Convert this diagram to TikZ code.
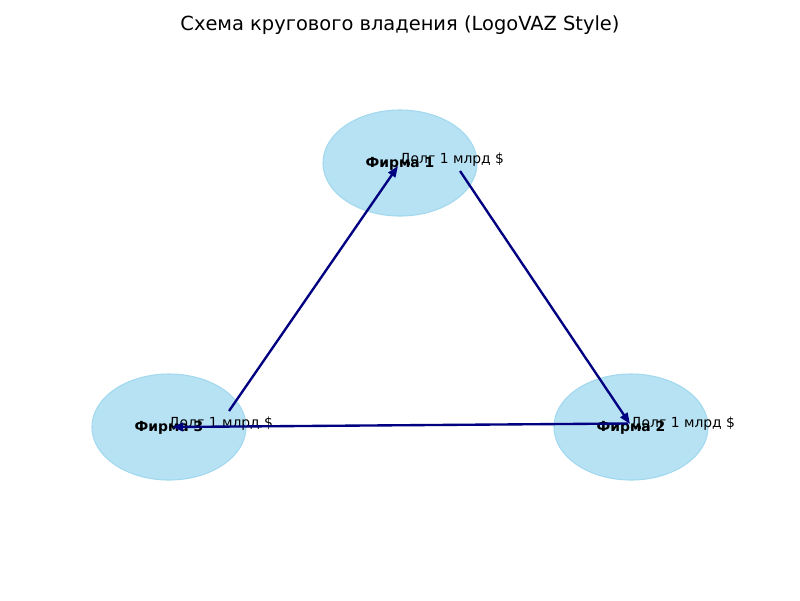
\documentclass[tikz,border=0pt]{standalone}
\usepackage{fontspec}
\setmainfont{DejaVu Sans}
\usetikzlibrary{shapes.geometric,arrows.meta}
\definecolor{firmfill}{HTML}{B7E2F3}
\definecolor{firmedge}{HTML}{A3D9EF}
\definecolor{navyc}{HTML}{000080}
\tikzset{
  firm/.style={ellipse, fill=firmfill, draw=firmedge, line width=0.8pt,
    minimum width=110.9pt, minimum height=76.3pt, inner sep=0pt},
  firmlabel/.style={font=\fontsize{10}{12}\selectfont\bfseries, inner sep=0pt},
  debtlabel/.style={font=\fontsize{10}{12}\selectfont, inner sep=0pt},
  own/.style={draw=navyc, line width=1.7pt, -{Stealth[length=8pt,width=6pt,inset=0pt]}},
}
\begin{document}
\begin{tikzpicture}[x=0.72pt,y=-0.72pt]
\useasboundingbox (0,0) rectangle (800,600);
\node[font=\fontsize{14}{16}\selectfont, inner sep=0pt] (title) at (400,25.5) {Схема кругового владения (LogoVAZ Style)};
\node[firm] (f1) at (400,163) {};
\node[firm] (f3) at (169,427) {};
\node[firm] (f2) at (631,427) {};
\coordinate (a1s) at (229,411);
\coordinate (a1e) at (398,166);
\coordinate (a2s) at (460,171);
\coordinate (a2e) at (630,424);
\coordinate (a3s) at (628,423.5);
\coordinate (a3e) at (172,427);
\node[debtlabel] (d1) at (452,160) {Долг 1 млрд \$};
\node[debtlabel] (d3) at (221,424) {Долг 1 млрд \$};
\node[debtlabel] (d2) at (683,424) {Долг 1 млрд \$};
\node[firmlabel] (l1) at (400,164) {Фирма 1};
\node[firmlabel] (l3) at (169,428) {Фирма 3};
\node[firmlabel] (l2) at (631,428) {Фирма 2};
\draw[own] (a1s) -- (a1e);
\draw[own] (a2s) -- (a2e);
\draw[own] (a3s) -- (a3e);
\end{tikzpicture}
\end{document}
